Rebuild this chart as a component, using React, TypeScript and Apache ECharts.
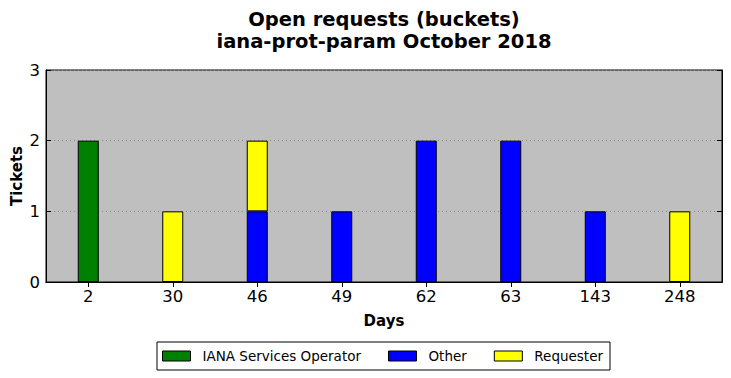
import React, { useEffect, useRef } from "react";
import * as echarts from "echarts";

const categories = ["2", "30", "46", "49", "62", "63", "143", "248"];
const ianaValues = [2, 0, 0, 0, 0, 0, 0, 0];
const otherValues = [0, 0, 1, 1, 2, 2, 1, 0];
const requesterValues = [0, 1, 1, 0, 0, 0, 0, 1];
const titleLines = ["Open requests (buckets)", "iana-prot-param October 2018"];

const FONT = "DejaVu Sans";

export default function App() {
  const ref = useRef<HTMLDivElement>(null);
  useEffect(() => {
    if (!ref.current) return;
    const chart = echarts.init(ref.current, null, { renderer: "svg" });
    const mk = (name: string, data: number[], color: string) => ({
      name,
      type: "bar",
      stack: "total",
      data: data.map((v) => (v === 0 ? null : v)),
      barWidth: 21,
      itemStyle: { color, borderColor: "#000", borderWidth: 1 },
      emphasis: { disabled: true },
    });
    const titleText = (text: string, y: number) => ({
      type: "text",
      x: 384,
      y,
      style: {
        text,
        font: `bold 19.5px '${FONT}'`,
        fill: "#000",
        textAlign: "center",
        textVerticalAlign: "middle",
      },
    });
    chart.setOption({
      animation: false,
      textStyle: { fontFamily: FONT },
      graphic: [titleText(titleLines[0], 19), titleText(titleLines[1], 41)],
      grid: {
        left: 46,
        right: 9,
        top: 70,
        bottom: 96,
        containLabel: false,
        outerBoundsMode: "none",
        show: true,
        backgroundColor: "#bfbfbf",
        borderColor: "#000",
        borderWidth: 1,
      },
      legend: {
        left: 157,
        top: 342,
        itemWidth: 28,
        itemHeight: 10,
        itemGap: 27,
        padding: [7, 7, 7, 5],
        borderColor: "#000",
        borderWidth: 1,
        borderRadius: 0,
        icon: "rect",
        textStyle: { fontFamily: FONT, fontSize: 13.5, color: "#000", padding: [0, 0, 0, 7] },
        itemStyle: { borderColor: "#000", borderWidth: 1 },
        data: ["IANA Services Operator", "Other", "Requester"],
      },
      xAxis: [
        {
          type: "category",
          data: categories,
          position: "bottom",
          name: "Days",
          nameLocation: "middle",
          nameGap: 31,
          nameMoveOverlap: false,
          nameTextStyle: { fontFamily: FONT, fontWeight: "bold", fontSize: 15, color: "#000" },
          axisLine: { show: true, lineStyle: { color: "#000" } },
          axisTick: { show: true, inside: true, alignWithLabel: true, length: 5, lineStyle: { color: "#000" } },
          axisLabel: { fontFamily: FONT, fontSize: 16.5, color: "#000", margin: 6 },
          splitLine: { show: false },
        },
        {
          type: "category",
          data: categories,
          position: "top",
          axisLine: { show: true, lineStyle: { color: "#000" } },
          axisTick: { show: true, inside: true, alignWithLabel: true, length: 5, lineStyle: { color: "#000" } },
          axisLabel: { show: false },
          splitLine: { show: false },
        },
      ],
      yAxis: [
        {
          type: "value",
          min: 0,
          max: 3,
          interval: 1,
          position: "left",
          name: "Tickets",
          nameLocation: "middle",
          nameGap: 22,
          nameMoveOverlap: false,
          nameTextStyle: { fontFamily: FONT, fontWeight: "bold", fontSize: 15, color: "#000" },
          axisLine: { show: true, lineStyle: { color: "#000" } },
          axisTick: { show: true, inside: true, length: 5, lineStyle: { color: "#000" } },
          axisLabel: { fontFamily: FONT, fontSize: 16.5, color: "#000", margin: 6 },
          splitLine: { show: true, lineStyle: { color: "#888", type: [1, 3], width: 1 } },
        },
        {
          type: "value",
          min: 0,
          max: 3,
          interval: 1,
          position: "right",
          axisLine: { show: true, lineStyle: { color: "#000" } },
          axisTick: { show: true, inside: true, length: 5, lineStyle: { color: "#000" } },
          axisLabel: { show: false },
          splitLine: { show: false },
        },
      ],
      series: [
        mk("IANA Services Operator", ianaValues, "#008000"),
        mk("Other", otherValues, "#0000ff"),
        mk("Requester", requesterValues, "#ffff00"),
      ],
    });
    return () => chart.dispose();
  }, []);
  return <div ref={ref} style={{ width: 731, height: 378, position: "absolute", left: 0, top: 0 }} />;
}
